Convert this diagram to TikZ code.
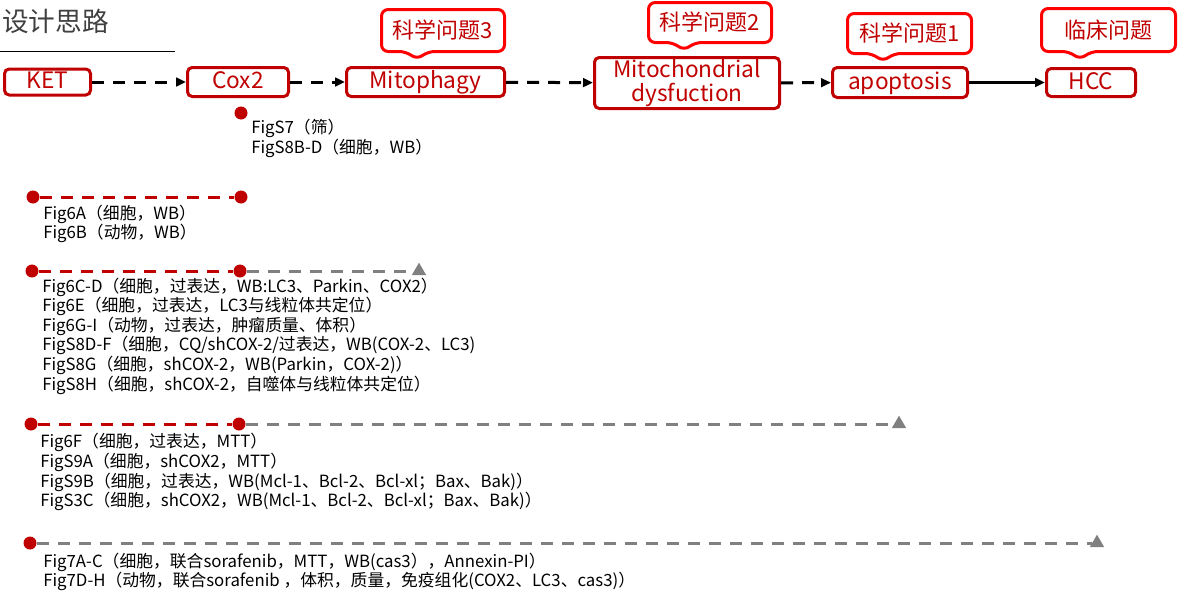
\documentclass[tikz,border=0pt]{standalone}
\usepackage{fontspec}
\setmainfont{Noto Sans CJK SC}
\usetikzlibrary{arrows.meta,calc,shapes.geometric}
\definecolor{boxred}{HTML}{C00000}
\definecolor{callred}{HTML}{FF0000}
\definecolor{dashgray}{HTML}{808080}
\definecolor{titlegray}{HTML}{404040}
\newcommand\callshape[4]{%
  \draw[callborder] ($(#1)+(-#2,0)$) -- ($(#1)+(-#2,-#3)$) -- ($(#1)+(#2,-#3)$) -- ($(#1)+(#2,#3)$)
    -- ($(#1)+(#4+11,#3)$) -- ($(#1)+(#4,#3+8)$) -- ($(#1)+(#4-11,#3)$) -- ($(#1)+(-#2,#3)$) -- cycle;}
\begin{document}
\begin{tikzpicture}[x=0.75pt,y=-0.75pt,
  boxnode/.style={draw=boxred, line width=2.25pt, rounded corners=3.5pt, text=boxred,
    font=\color{boxred}\fontsize{17pt}{18pt}\selectfont, inner sep=0pt, text height=12pt, text depth=2.25pt},
  calltext/.style={text=boxred, font=\fontsize{16.5pt}{18pt}\selectfont, inner sep=0pt},
  callborder/.style={draw=callred, line width=2.25pt, rounded corners=5pt, line join=round},
  flow/.style={line width=2.25pt, -{Triangle[length=7.5pt,width=6.5pt]}},
  dashpat/.style={dash pattern=on 9pt off 6.75pt},
  flowdash/.style={flow, dashpat},
  reddash/.style={draw=boxred, line width=2.25pt, dashpat},
  graydash/.style={draw=dashgray, line width=2.25pt, dashpat},
  reddot/.style={circle, fill=boxred, minimum size=9.75pt, inner sep=0pt},
  graytri/.style={regular polygon, regular polygon sides=3, fill=dashgray, minimum size=12.5pt, inner sep=0pt},
  figtext/.style={anchor=base west, inner sep=0pt, font=\fontsize{12.6pt}{14.6pt}\selectfont}
]
\useasboundingbox (0,0) rectangle (1182,600);

% title
\node[anchor=west, inner sep=0pt, text=titlegray, font=\fontsize{20pt}{24pt}\selectfont] (title) at (2,21) {设计思路};
\coordinate (ul1) at (0,51);
\coordinate (ul2) at (175,51);
\draw[line width=0.75pt] (ul1) -- (ul2);

% flow boxes
\node[boxnode, minimum width=64.5pt, minimum height=19.5pt] (ket) at (47.5,82) {KET};
\node[boxnode, minimum width=75.75pt, minimum height=21.75pt] (cox) at (238,82) {Cox2};
\node[boxnode, minimum width=118.5pt, minimum height=21.75pt] (mitoph) at (425.5,82) {Mitophagy};
\node[boxnode, minimum width=138.75pt, minimum height=38.25pt, align=center,
      text height=30pt, text depth=3pt] (mitod) at (687,83) {Mitochondrial\\dysfuction};
\node[boxnode, minimum width=101.25pt, minimum height=22.5pt] (apo) at (900,82.5) {apoptosis};
\node[boxnode, minimum width=66.75pt, minimum height=21pt] (hcc) at (1091,82.5) {HCC};

\draw[flowdash] (ket) -- (cox);
\draw[flowdash] (cox) -- (mitoph);
\draw[flowdash] (mitoph) -- (mitod);
\draw[flowdash] (mitod) -- (apo);
\draw[flow] (apo) -- (hcc);

% callouts
\node[calltext] (q3) at (443,30.5) {科学问题3};
\callshape{q3}{61.5}{21}{-26}
\node[calltext] (q2) at (710,22.5) {科学问题2};
\callshape{q2}{61.5}{20}{-26}
\node[calltext] (q1) at (909.5,33.5) {科学问题1};
\callshape{q1}{62}{20}{-26.5}
\node[calltext] (qc) at (1108.5,30) {临床问题};
\callshape{qc}{67}{21.5}{-28.5}

% row 0
\node[reddot] (d0) at (241,113) {};
\node[figtext] (t0a) at (251,133) {FigS7（筛）};
\node[figtext] (t0b) at (251,153) {FigS8B-D（细胞，WB）};

% row 1
\node[reddot] (d1a) at (33,197) {};
\node[reddot] (d1b) at (241,197) {};
\draw[reddash] (d1a) -- (d1b);
\node[figtext] (t1a) at (43,219) {Fig6A（细胞，WB）};
\node[figtext] (t1b) at (43,238) {Fig6B（动物，WB）};

% row 2
\node[reddot] (d2a) at (32,271) {};
\node[reddot] (d2b) at (240,271) {};
\node[graytri] (tr2) at (419,271) {};
\draw[reddash] (d2a) -- (d2b);
\draw[graydash] (d2b) -- (tr2);
\node[figtext] (t2a) at (42,292) {Fig6C-D（细胞，过表达，WB:LC3、Parkin、COX2）};
\node[figtext] (t2b) at (42,311) {Fig6E（细胞，过表达，LC3与线粒体共定位）};
\node[figtext] (t2c) at (42,331) {Fig6G-I（动物，过表达，肿瘤质量、体积）};
\node[figtext] (t2d) at (42,350) {FigS8D-F（细胞，CQ/shCOX-2/过表达，WB(COX-2、LC3)};
\node[figtext] (t2e) at (42,370) {FigS8G（细胞，shCOX-2，WB(Parkin，COX-2)）};
\node[figtext] (t2f) at (42,390) {FigS8H（细胞，shCOX-2，自噬体与线粒体共定位）};

% row 3
\node[reddot] (d3a) at (31,424) {};
\node[reddot] (d3b) at (239,424) {};
\node[graytri] (tr3) at (899,424) {};
\draw[reddash] (d3a) -- (d3b);
\draw[graydash] (d3b) -- (tr3);
\node[figtext] (t3a) at (40,447) {Fig6F（细胞，过表达，MTT）};
\node[figtext] (t3b) at (40,467) {FigS9A（细胞，shCOX2，MTT）};
\node[figtext] (t3c) at (40,487) {FigS9B（细胞，过表达，WB(Mcl-1、Bcl-2、Bcl-xl；Bax、Bak)）};
\node[figtext] (t3d) at (40,506) {FigS3C（细胞，shCOX2，WB(Mcl-1、Bcl-2、Bcl-xl；Bax、Bak)）};

% row 4
\node[reddot] (d4a) at (30,543) {};
\node[graytri] (tr4) at (1097,543) {};
\draw[graydash] (d4a) -- (tr4);
\node[figtext] (t4a) at (43,567) {Fig7A-C（细胞，联合sorafenib，MTT，WB(cas3），Annexin-PI）};
\node[figtext] (t4b) at (43,586) {Fig7D-H（动物，联合sorafenib ，体积，质量，免疫组化(COX2、LC3、cas3)）};
\end{tikzpicture}
\end{document}
